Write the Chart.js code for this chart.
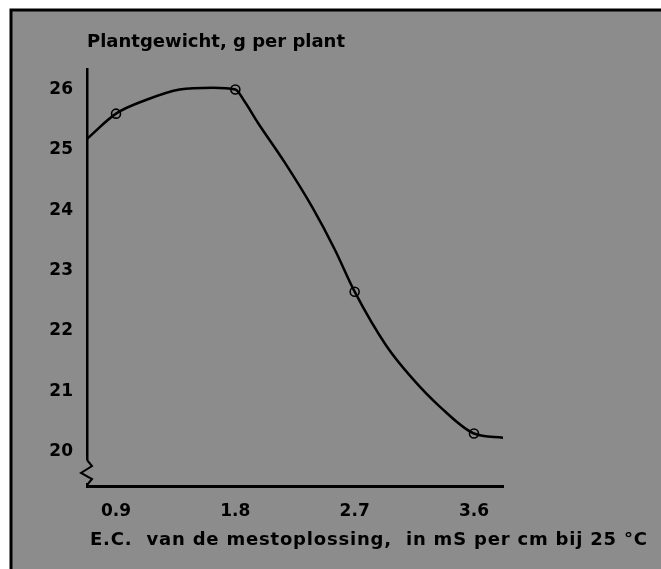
<!DOCTYPE html>
<html>
<head>
<meta charset="utf-8">
<script src="https://cdn.jsdelivr.net/npm/chart.js@4/dist/chart.umd.min.js"></script>
<style>
  html, body { margin: 0; padding: 0; background: #ffffff; }
  #wrap { width: 661px; height: 569px; }
</style>
</head>
<body>
<div id="wrap"><canvas id="plantChart" width="661" height="569"></canvas></div>
<script>
// measured points (open circles)
const ecLevels = [0.9, 1.8, 2.7, 3.6];
const plantWeights = [25.6, 26.0, 22.65, 20.3];

// hand drawn curve
const curveX = [0.68, 0.9, 1.13, 1.38, 1.63, 1.8, 1.87, 1.97, 2.17, 2.38, 2.55, 2.7, 2.94, 3.14, 3.34, 3.6, 3.82];
const curveY = [25.18, 25.6, 25.83, 26.0, 26.03, 26.0, 25.8, 25.45, 24.8, 24.05, 23.35, 22.65, 21.75, 21.2, 20.75, 20.3, 20.23];

const xTicks = [0.9, 1.8, 2.7, 3.6];
const yTicks = [20, 21, 22, 23, 24, 25, 26];

const yTitle = "Plantgewicht, g per plant";
const xTitle = "E.C.  van de mestoplossing,  in mS per cm bij 25 °C";

const paper = "#8c8c8c";
const ink = "#000000";
const tickFont = { family: "DejaVu Sans", size: 17, weight: "bold" };
const titleFont = { family: "DejaVu Sans", size: 18, weight: "bold" };

const scanBackground = {
  id: "scanBackground",
  beforeDraw(chart) {
    const { ctx, width, height } = chart;
    ctx.save();
    ctx.fillStyle = "#ffffff";
    ctx.fillRect(0, 0, width, height);
    ctx.fillStyle = paper;
    ctx.fillRect(12, 10, width - 12, height - 10);
    ctx.strokeStyle = ink;
    ctx.lineWidth = 3;
    ctx.beginPath();
    ctx.moveTo(11, height);
    ctx.lineTo(11, 10);
    ctx.lineTo(width, 10);
    ctx.stroke();
    ctx.restore();
  },
  afterDraw(chart) {
    const { ctx } = chart;
    const x = chart.scales.x.left;
    const bottom = chart.scales.y.bottom;
    ctx.save();
    // axis break on the y axis
    ctx.fillStyle = paper;
    ctx.fillRect(x - 3, bottom - 26, 6, 23);
    ctx.strokeStyle = ink;
    ctx.lineWidth = 2;
    ctx.beginPath();
    ctx.moveTo(x, bottom - 26);
    ctx.lineTo(x + 5, bottom - 20);
    ctx.lineTo(x - 6, bottom - 13);
    ctx.lineTo(x + 5, bottom - 7);
    ctx.lineTo(x, bottom - 1);
    ctx.stroke();
    // x axis title runs past the plot, so no maxWidth squeeze
    ctx.fillStyle = ink;
    ctx.font = `${titleFont.weight} ${titleFont.size}px ${titleFont.family}`;
    ctx.letterSpacing = "0.8px";
    ctx.textAlign = "left";
    ctx.textBaseline = "middle";
    ctx.fillText(xTitle, x + 3, chart.scales.x.bottom - 19);
    ctx.restore();
  },
};

new Chart(document.getElementById("plantChart"), {
  type: "line",
  data: {
    datasets: [
      {
        label: "curve",
        data: curveX.map((x, i) => ({ x, y: curveY[i] })),
        borderColor: ink,
        borderWidth: 2.5,
        pointRadius: 0,
        cubicInterpolationMode: "monotone",
        fill: false,
      },
      {
        label: "measured",
        data: ecLevels.map((x, i) => ({ x, y: plantWeights[i] })),
        showLine: false,
        pointRadius: 4.5,
        pointBorderWidth: 1.6,
        pointBorderColor: ink,
        pointBackgroundColor: paper,
      },
    ],
  },
  options: {
    responsive: false,
    animation: false,
    layout: { padding: { left: 12, top: 10, right: 158, bottom: 10 } },
    plugins: {
      legend: { display: false },
      tooltip: { enabled: false },
      title: {
        display: true,
        text: yTitle,
        align: "start",
        fullSize: false,
        color: ink,
        font: titleFont,
        padding: { top: 22, bottom: 16 },
      },
    },
    scales: {
      x: {
        type: "linear",
        min: 0.681,
        max: 3.819,
        afterBuildTicks: (scale) => { scale.ticks = xTicks.map((value) => ({ value })); },
        afterFit: (scale) => { scale.height = 73; },
        grid: { display: false, drawTicks: false },
        border: { display: true, color: ink, width: 3 },
        ticks: { color: ink, font: tickFont, padding: 15, callback: (v) => v.toFixed(1) },
      },
      y: {
        min: 19.43,
        max: 26.33,
        afterBuildTicks: (scale) => { scale.ticks = yTicks.map((value) => ({ value })); },
        afterFit: (scale) => { scale.width = 75; },
        grid: { display: false, drawTicks: false },
        border: { display: true, color: ink, width: 2.5 },
        ticks: { color: ink, font: tickFont, padding: 14 },
      },
    },
  },
  plugins: [scanBackground],
});
</script>
</body>
</html>
